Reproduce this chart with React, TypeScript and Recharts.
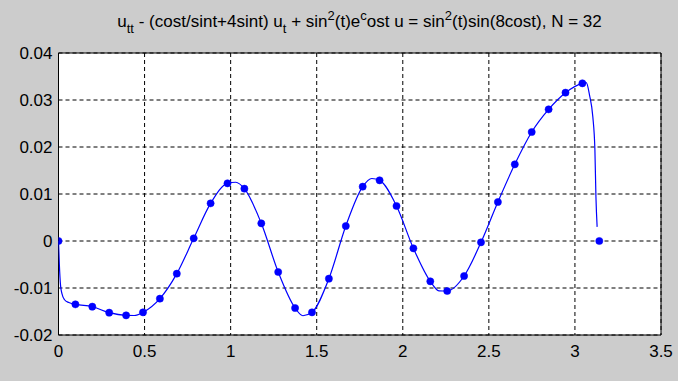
import React from "react";
import {
  LineChart,
  Line,
  XAxis,
  YAxis,
  CartesianGrid,
  ReferenceArea,
} from "recharts";

// Collocation nodes t_k and the computed solution u at each node (N = 32).
const nodeT = [
  0, 0.0982, 0.1963, 0.2945, 0.3927, 0.4909, 0.589, 0.6872, 0.7854, 0.8836,
  0.9817, 1.0799, 1.1781, 1.2763, 1.3744, 1.4726, 1.5708, 1.669, 1.7671,
  1.8653, 1.9635, 2.0617, 2.1598, 2.258, 2.3562, 2.4544, 2.5525, 2.6507,
  2.7489, 2.8471, 2.9452, 3.0434, 3.1416,
];
const nodeU = [
  0, -0.01348, -0.01397, -0.01525, -0.01582, -0.01518, -0.01227, -0.00695,
  0.00057, 0.00801, 0.01227, 0.01113, 0.00376, -0.0066, -0.01426, -0.01518,
  -0.00801, 0.00319, 0.01156, 0.01291, 0.00745, -0.00156, -0.00858, -0.01064,
  -0.00745, -0.00028, 0.0083, 0.01631, 0.02319, 0.02801, 0.03156, 0.03355, 0,
];

// Fine-grid evaluation of the interpolant.
const curveT = [
  0, 0.005, 0.012, 0.02, 0.035, 0.06, 0.0982, 0.1963, 0.2945, 0.3927, 0.44,
  0.4909, 0.589, 0.6872, 0.7854, 0.8836, 0.9817, 1.03, 1.0799, 1.1781, 1.2763,
  1.3744, 1.42, 1.4726, 1.5708, 1.669, 1.7671, 1.82, 1.8653, 1.9635, 2.0617,
  2.1598, 2.21, 2.258, 2.3562, 2.4544, 2.5525, 2.6507, 2.7489, 2.8471, 2.9452,
  3.0434, 3.066, 3.085, 3.104, 3.116, 3.122, 3.129,
];
const curveU = [
  0, -0.005, -0.0095, -0.0112, -0.0125, -0.0131, -0.01348, -0.01397, -0.01525,
  -0.01582, -0.01585, -0.01518, -0.01227, -0.00695, 0.00057, 0.00801, 0.01227,
  0.0125, 0.01113, 0.00376, -0.0066, -0.01426, -0.0159, -0.01518, -0.00801,
  0.00319, 0.01156, 0.0133, 0.01291, 0.00745, -0.00156, -0.00858, -0.0106,
  -0.01064, -0.00745, -0.00028, 0.0083, 0.01631, 0.02319, 0.02801, 0.03156,
  0.03355, 0.0337, 0.031, 0.0264, 0.0194, 0.0094, 0.003,
];

const xTicks = [0, 0.5, 1, 1.5, 2, 2.5, 3, 3.5];
const yTicks = [-0.02, -0.01, 0, 0.01, 0.02, 0.03, 0.04];

const nodes = nodeT.map((t, i) => ({ t, u: nodeU[i] }));
const curve = curveT.map((t, i) => ({ t, u: curveU[i] }));

const FONT = "Arial, 'Liberation Sans', sans-serif";
const W = 678;
const H = 381;

const fmt = (v: number) => String(Number(v.toFixed(2)));

export default function App() {
  const tick = { fill: "#000", fontSize: 17, fontFamily: FONT };
  return (
    <div
      style={{
        position: "fixed",
        left: 0,
        top: 0,
        width: W,
        height: H,
        background: "#cccccc",
      }}
    >
      <LineChart
        width={W}
        height={H}
        margin={{ top: 53, right: 17, bottom: 0, left: 0 }}
      >
        <CartesianGrid
          fill="#ffffff"
          stroke="#000"
          strokeDasharray="4 3"
          horizontalValues={yTicks}
          verticalValues={xTicks}
        />
        <XAxis
          dataKey="t"
          type="number"
          domain={[0, 3.5]}
          ticks={xTicks}
          tickFormatter={fmt}
          allowDataOverflow
          axisLine={false}
          tickLine={false}
          tickSize={0}
          tickMargin={10}
          height={46}
          tick={tick}
          interval={0}
        />
        <YAxis
          type="number"
          domain={[-0.02, 0.04]}
          ticks={yTicks}
          tickFormatter={fmt}
          allowDataOverflow
          axisLine={false}
          tickLine={false}
          tickSize={0}
          tickMargin={6}
          width={58.5}
          tick={tick}
          interval={0}
        />
        <ReferenceArea
          x1={0}
          x2={3.5}
          y1={-0.02}
          y2={0.04}
          fill="none"
          fillOpacity={0}
          stroke="#000"
          strokeWidth={1}
          ifOverflow="visible"
        />
        <Line
          data={curve}
          dataKey="u"
          type="monotone"
          stroke="#0000ff"
          strokeWidth={1.2}
          dot={false}
          activeDot={false}
          isAnimationActive={false}
        />
        <Line
          data={nodes}
          dataKey="u"
          stroke="none"
          dot={{ r: 3.6, fill: "#0000ff", stroke: "#0000ff", strokeWidth: 0.5 }}
          activeDot={false}
          isAnimationActive={false}
        />
      </LineChart>
      <svg
        width={W}
        height={50}
        style={{ position: "absolute", left: 0, top: 0, pointerEvents: "none" }}
      >
        <text
          x={359.5}
          y={27}
          textAnchor="middle"
          fontFamily={FONT}
          fontSize={17}
          fill="#000"
          style={{ whiteSpace: "pre" }}
        >
          u
          <tspan dy={6} fontSize={13}>tt</tspan>
          <tspan dy={-6}> - (cost/sint+4sint) u</tspan>
          <tspan dy={6} fontSize={13}>t</tspan>
          <tspan dy={-6}> + sin</tspan>
          <tspan dy={-7} fontSize={13}>2</tspan>
          <tspan dy={7}>(t)e</tspan>
          <tspan dy={-7} fontSize={13}>c</tspan>
          <tspan dy={7}>ost u = sin</tspan>
          <tspan dy={-7} fontSize={13}>2</tspan>
          <tspan dy={7}>(t)sin(8cost), N = 32</tspan>
        </text>
      </svg>
    </div>
  );
}
